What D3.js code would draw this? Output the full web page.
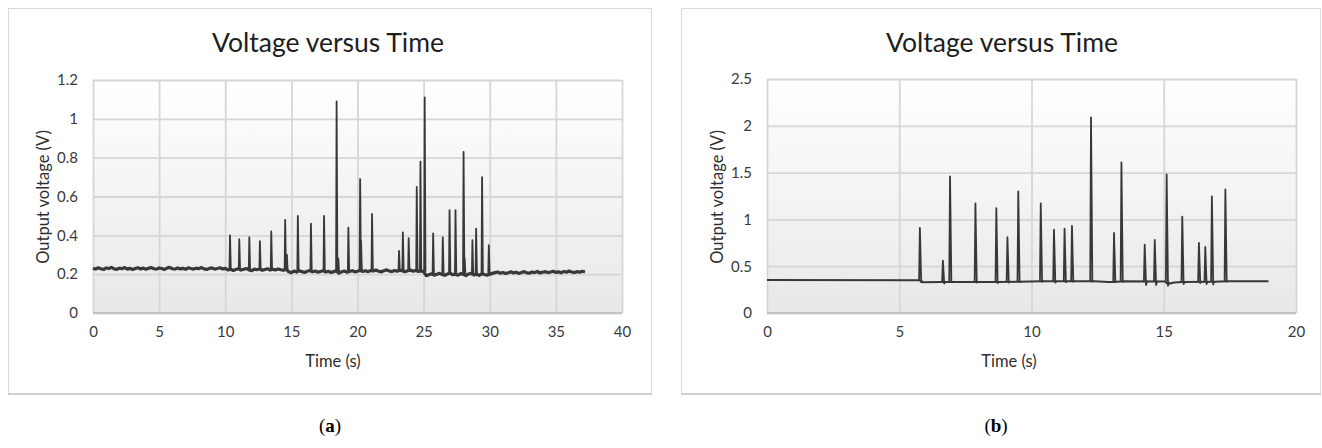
<!DOCTYPE html>
<html>
<head>
<meta charset="utf-8">
<script src="https://cdn.jsdelivr.net/npm/d3@7"></script>
<style>
  body { margin: 0; background: #fff; }
  svg { display: block; }
  .tick text { font-family: Lato, "Open Sans", sans-serif; font-size: 15px; fill: #3a3a3a; }
</style>
</head>
<body>
<div id="chart"></div>
<script>
// ---- chart (a) ----
const xTicksA = [0, 5, 10, 15, 20, 25, 30, 35, 40];
const yTicksA = [0, 0.2, 0.4, 0.6, 0.8, 1, 1.2];
const yLabelsA = ["0", "0.2", "0.4", "0.6", "0.8", "1", "1.2"];
const sampleStepA = 0.2; // s between baseline samples
const baselineA = [
  0.231,0.226,0.233,0.228,0.224,0.232,0.229,0.235,0.227,0.225,
  0.231,0.228,0.234,0.226,0.230,0.224,0.229,0.233,0.227,0.231,
  0.225,0.230,0.234,0.228,0.226,0.232,0.229,0.224,0.231,0.235,
  0.228,0.226,0.232,0.227,0.230,0.225,0.233,0.229,0.226,0.231,
  0.228,0.234,0.227,0.224,0.230,0.232,0.226,0.229,0.233,0.227,
  0.230,
  0.222,0.226,0.219,0.224,0.228,0.221,0.225,0.229,0.222,0.218,
  0.226,0.223,0.227,0.220,0.224,0.228,0.221,0.225,0.222,0.227,
  0.223,0.220,0.226,
  0.212,0.208,0.216,0.211,0.218,0.213,0.209,0.215,0.219,0.212,
  0.216,0.210,0.214,0.218,0.211,0.215,0.209,0.213,0.217,
  0.205,0.212,0.216,0.210,0.214,0.218,0.212,0.215,
  0.220,0.214,0.218,0.213,0.219,0.216,0.221,0.215,0.212,0.218,
  0.222,0.216,0.213,0.219,0.215,0.220,0.217,0.213,0.218,0.221,
  0.215,0.219,0.214,0.217,0.212,
  0.192,0.197,0.202,0.195,0.200,0.204,0.198,0.194,0.201,0.205,
  0.197,0.200,0.195,0.203,0.199,0.193,0.201,0.204,0.196,0.200,
  0.194,0.202,0.198,0.195,0.200,
  0.204,0.208,0.211,0.205,0.209,0.203,0.207,0.212,0.206,0.210,
  0.204,0.209,0.213,0.207,0.205,0.211,0.208,0.214,0.206,0.210,
  0.213,0.208,0.211,0.215,0.209,0.212,0.207,0.214,0.210,0.216,
  0.211,0.208,0.213,0.210,0.215,0.211
];
// [time, peak, base]
const spikesA = [
  [10.36,0.40,0.226],[11.06,0.38,0.224],[11.82,0.39,0.223],[12.62,0.37,0.222],
  [13.48,0.42,0.224],[14.53,0.48,0.222],[14.66,0.30,0.218],[15.49,0.50,0.214],
  [16.48,0.46,0.213],[17.47,0.50,0.214],[18.42,1.09,0.213],[18.55,0.28,0.206],
  [19.31,0.44,0.213],[20.20,0.69,0.216],[20.27,0.37,0.216],[21.10,0.51,0.216],
  [23.14,0.32,0.217],[23.43,0.415,0.217],[23.87,0.385,0.217],[24.48,0.65,0.217],
  [24.76,0.78,0.216],[25.08,1.11,0.212],[25.72,0.41,0.200],[26.45,0.39,0.199],
  [26.96,0.53,0.200],[27.41,0.53,0.199],[28.02,0.83,0.199],[28.10,0.28,0.199],
  [28.69,0.375,0.200],[28.97,0.435,0.200],[29.42,0.70,0.199],[29.93,0.35,0.202]
];

// ---- chart (b) ----
const xTicksB = [0, 5, 10, 15, 20];
const yTicksB = [0, 0.5, 1, 1.5, 2, 2.5];
const yLabelsB = ["0", "0.5", "1", "1.5", "2", "2.5"];
// [time, value]
const baselineB = [
  [0,0.352],[5.76,0.350],[5.86,0.328],[6.6,0.330],[7.0,0.332],[8.7,0.332],
  [9.5,0.335],[10.4,0.338],[12.2,0.340],[12.4,0.338],[12.9,0.330],[13.1,0.332],
  [13.5,0.338],[15.05,0.336],[15.15,0.310],[15.4,0.325],[15.7,0.330],[16.9,0.335],
  [17.4,0.340],[18.96,0.340]
];
// [time, peak, base, dip]
const spikesB = [
  [5.78,0.91,0.350,0.330],[6.65,0.56,0.330,0.315],[6.92,1.46,0.330,0.330],
  [7.88,1.17,0.332,0.325],[8.67,1.12,0.332,0.320],[9.09,0.81,0.333,0.325],
  [9.50,1.30,0.335,0.330],[10.35,1.17,0.338,0.335],[10.85,0.89,0.338,0.325],
  [11.25,0.90,0.339,0.330],[11.53,0.93,0.340,0.335],[12.25,2.09,0.340,0.335],
  [13.12,0.855,0.332,0.330],[13.40,1.61,0.336,0.335],[14.28,0.73,0.337,0.300],
  [14.66,0.78,0.337,0.300],[15.11,1.48,0.336,0.290],[15.70,1.03,0.330,0.310],
  [16.33,0.75,0.334,0.320],[16.57,0.705,0.334,0.310],[16.82,1.245,0.335,0.305],
  [17.33,1.32,0.340,0.335]
];

const W = 1322, H = 448;
const lineColor = "#383838";
const font = "Lato, 'Open Sans', sans-serif";

const svg = d3.select("#chart").append("svg")
  .attr("width", W).attr("height", H);

const grad = svg.append("defs").append("linearGradient")
  .attr("id", "plotbg").attr("x1", 0).attr("y1", 0).attr("x2", 0).attr("y2", 1);
grad.append("stop").attr("offset", "0%").attr("stop-color", "#ffffff");
grad.append("stop").attr("offset", "100%").attr("stop-color", "#e8e8e8");

function drawChart(c) {
  const g = svg.append("g");

  // panel frame
  g.append("rect")
    .attr("x", c.panel[0] + 0.5).attr("y", c.panel[1] + 0.5)
    .attr("width", c.panel[2] - c.panel[0]).attr("height", c.panel[3] - c.panel[1])
    .attr("fill", "#fff").attr("stroke", "#d9d9d9");
  g.append("line")
    .attr("x1", c.panel[0]).attr("x2", c.panel[2] + 1)
    .attr("y1", c.panel[3] + 1).attr("y2", c.panel[3] + 1)
    .attr("stroke", "#cfcfcf").attr("stroke-width", 2);

  const x = d3.scaleLinear().domain(c.xDomain).range([c.plot[0], c.plot[2]]);
  const y = d3.scaleLinear().domain(c.yDomain).range([c.plot[3], c.plot[1]]);

  g.append("rect")
    .attr("x", c.plot[0]).attr("y", c.plot[1])
    .attr("width", c.plot[2] - c.plot[0]).attr("height", c.plot[3] - c.plot[1])
    .attr("fill", "url(#plotbg)");

  // gridlines + labels
  const yAxis = g.append("g")
    .attr("transform", `translate(${c.plot[0]},0)`)
    .call(d3.axisLeft(y).tickValues(c.yTicks)
      .tickFormat((d, i) => c.yLabels[i])
      .tickSize(-(c.plot[2] - c.plot[0])).tickPadding(15));
  yAxis.select(".domain").remove();
  yAxis.selectAll(".tick line").attr("stroke", "#d6d6d6").attr("stroke-width", 1.8);

  const xAxis = g.append("g")
    .attr("transform", `translate(0,${c.plot[3]})`)
    .call(d3.axisBottom(x).tickValues(c.xTicks)
      .tickFormat(d3.format("d"))
      .tickSize(-(c.plot[3] - c.plot[1])).tickPadding(13));
  xAxis.select(".domain").remove();
  xAxis.selectAll(".tick line").attr("stroke", "#d6d6d6").attr("stroke-width", 1.8);

  // bottom edge of plot slightly darker
  g.append("line")
    .attr("x1", c.plot[0]).attr("x2", c.plot[2])
    .attr("y1", c.plot[3]).attr("y2", c.plot[3])
    .attr("stroke", "#c4c4c4").attr("stroke-width", 1.8);

  // baseline signal
  const line = d3.line().x(d => x(d[0])).y(d => y(d[1]));
  g.append("path")
    .datum(c.baseline)
    .attr("d", line)
    .attr("fill", "none")
    .attr("stroke", lineColor)
    .attr("stroke-width", c.baseWidth)
    .attr("stroke-linejoin", "round");

  // spikes
  g.selectAll(".spike")
    .data(c.spikes)
    .join("path")
      .attr("class", "spike")
      .attr("d", c.spikeShape(line))
      .attr("fill", "none")
      .attr("stroke", lineColor)
      .attr("stroke-width", 1.8)
      .attr("stroke-linejoin", "round");

  // titles
  g.append("text")
    .attr("x", c.titleX).attr("y", 52)
    .attr("text-anchor", "middle")
    .attr("font-family", font).attr("font-size", 26.5)
    .attr("fill", "#1e1e1e")
    .text("Voltage versus Time");

  g.append("text")
    .attr("x", c.xTitleX).attr("y", 367)
    .attr("text-anchor", "middle")
    .attr("font-family", font).attr("font-size", 16.5)
    .attr("fill", "#2e2e2e")
    .text("Time (s)");

  g.append("text")
    .attr("transform", `translate(${c.yTitleX},197) rotate(-90)`)
    .attr("text-anchor", "middle")
    .attr("dy", "0.35em")
    .attr("font-family", font).attr("font-size", 16.5)
    .attr("fill", "#2e2e2e")
    .text("Output voltage (V)");

  // caption
  const cap = svg.append("text")
    .attr("x", c.captionX).attr("y", 432)
    .attr("text-anchor", "middle")
    .attr("font-family", "'Liberation Serif', 'DejaVu Serif', serif")
    .attr("font-size", 19).attr("fill", "#000");
  cap.append("tspan").text("(");
  cap.append("tspan").attr("font-weight", "bold").text(c.caption);
  cap.append("tspan").text(")");
}

drawChart({
  panel: [8, 8, 651, 393],
  plot: [93, 80, 622, 313],
  xDomain: [0, 40], yDomain: [0, 1.2],
  xTicks: xTicksA, yTicks: yTicksA, yLabels: yLabelsA,
  baseline: baselineA.map((v, i) => [i * sampleStepA, v]),
  baseWidth: 3.2,
  spikes: spikesA,
  spikeShape: line => d => line([[d[0] - 0.04, d[2]], [d[0], d[1]], [d[0] + 0.06, d[2]]]),
  titleX: 328, xTitleX: 333, yTitleX: 43,
  captionX: 330, caption: "a"
});

drawChart({
  panel: [681, 8, 1320, 393],
  plot: [767, 79, 1296, 313],
  xDomain: [0, 20], yDomain: [0, 2.5],
  xTicks: xTicksB, yTicks: yTicksB, yLabels: yLabelsB,
  baseline: baselineB,
  baseWidth: 2,
  spikes: spikesB,
  spikeShape: line => d => line([[d[0] - 0.03, d[2]], [d[0], d[1]], [d[0] + 0.05, d[3]], [d[0] + 0.09, d[2]]]),
  titleX: 1002, xTitleX: 1009, yTitleX: 717,
  captionX: 996, caption: "b"
});
</script>
</body>
</html>
